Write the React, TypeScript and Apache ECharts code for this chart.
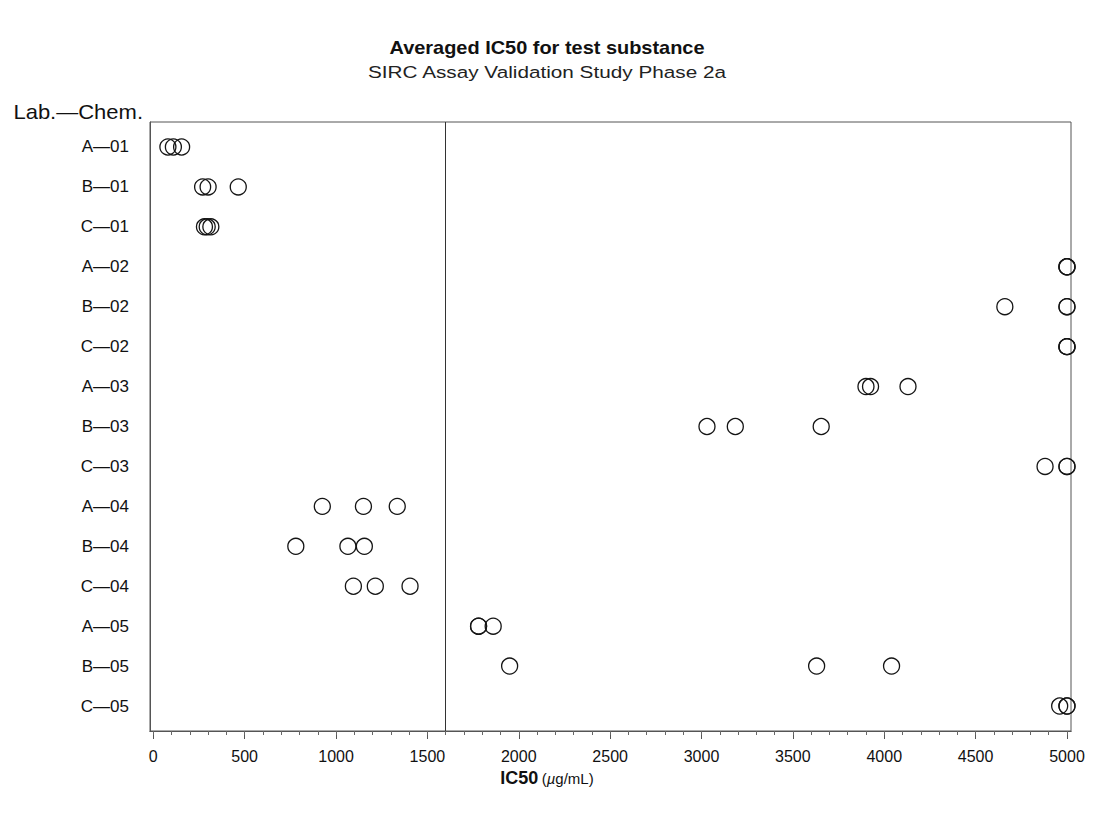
import React, { useEffect, useRef } from "react";
import * as echarts from "echarts";

// Row labels (Lab.–Chem.), top to bottom
const rowLabels = [
  "A—01", "B—01", "C—01",
  "A—02", "B—02", "C—02",
  "A—03", "B—03", "C—03",
  "A—04", "B—04", "C—04",
  "A—05", "B—05", "C—05",
];

// Averaged IC50 values (µg/mL), three runs per lab–chemical row
const run1Values = [80, 270, 280, 5000, 4660, 5000, 3900, 3030, 4880, 925, 780, 1095, 1780, 1950, 4960];
const run2Values = [110, 300, 295, 5000, 5000, 5000, 3925, 3185, 5000, 1150, 1065, 1215, 1780, 3630, 5000];
const run3Values = [155, 465, 315, 5000, 5000, 5000, 4130, 3655, 5000, 1335, 1155, 1405, 1860, 4040, 5000];

const majorTicks = [0, 500, 1000, 1500, 2000, 2500, 3000, 3500, 4000, 4500, 5000];
const minorTicks = Array.from({ length: 51 }, (_, i) => i * 100);
const referenceLine = 1600;

const FONT = "'Liberation Sans', Arial, Helvetica, sans-serif";

export default function App() {
  const ref = useRef<HTMLDivElement>(null);

  useEffect(() => {
    if (!ref.current) return;
    const chart = echarts.init(ref.current, null, { renderer: "svg" });

    const runs = [run1Values, run2Values, run3Values];
    const series: any[] = runs.map((vals, k) => ({
      type: "scatter",
      xAxisIndex: k === 1 ? 1 : 0,
      yAxisIndex: 0,
      symbol: "circle",
      symbolSize: 16,
      itemStyle: { color: "rgba(0,0,0,0)", borderColor: "#151515", borderWidth: 1.3, opacity: 1 },
      data: vals.map((v, i) => [v, i]),
      markLine:
        k === 0
          ? {
              silent: true,
              symbol: ["none", "none"],
              label: { show: false },
              lineStyle: { color: "#333", width: 1, type: "solid" },
              data: [{ xAxis: referenceLine }],
            }
          : undefined,
    }));

    chart.setOption({
      animation: false,
      backgroundColor: "#ffffff",
      grid: {
        left: 150,
        top: 122,
        width: 921,
        height: 609,
        show: true,
        borderColor: "#555",
        borderWidth: 1,
        backgroundColor: "transparent",
      },
      xAxis: [
        {
          type: "value",
          min: -18,
          max: 5022,
          position: "bottom",
          axisLine: { show: true, onZero: false, lineStyle: { color: "#555", width: 1 } },
          axisTick: { show: true, customValues: majorTicks, length: 8, lineStyle: { color: "#555" } },
          axisLabel: {
            show: true,
            customValues: majorTicks,
            formatter: (v: number) => String(Math.round(v)),
            fontFamily: FONT,
            fontSize: 16,
            color: "#111",
            margin: 17,
          },
          splitLine: { show: false },
        },
        {
          type: "value",
          min: -18,
          max: 5022,
          position: "bottom",
          offset: 0,
          axisLine: { show: true, onZero: false, lineStyle: { color: "#555", width: 1 } },
          axisTick: { show: true, customValues: minorTicks, length: 4, lineStyle: { color: "#666" } },
          axisLabel: { show: false },
          splitLine: { show: false },
        },
      ],
      yAxis: {
        type: "value",
        inverse: true,
        min: -0.625,
        max: 14.625,
        axisLine: { show: true, onZero: false, lineStyle: { color: "#555" } },
        axisTick: { show: false },
        axisLabel: {
          customValues: rowLabels.map((_, i) => i),
          formatter: (v: number) => rowLabels[Math.round(v)] ?? "",
          fontFamily: FONT,
          fontSize: 17,
          color: "#111",
          margin: 21,
        },
        splitLine: { show: false },
      },
      graphic: [
        {
          type: "text",
          x: 547,
          y: 47,
          scaleX: 1.05,
          style: {
            text: "Averaged IC50 for test substance",
            font: `bold 19px ${FONT}`,
            fill: "#111",
            textAlign: "center",
            textVerticalAlign: "middle",
          },
        },
        {
          type: "text",
          x: 547,
          y: 72,
          scaleX: 1.22,
          style: {
            text: "SIRC Assay Validation Study Phase 2a",
            font: `17px ${FONT}`,
            fill: "#222",
            textAlign: "center",
            textVerticalAlign: "middle",
          },
        },
        {
          type: "text",
          x: 143,
          y: 112,
          scaleX: 1.1,
          style: {
            text: "Lab.—Chem.",
            font: `20px ${FONT}`,
            fill: "#111",
            textAlign: "right",
            textVerticalAlign: "middle",
          },
        },
        {
          type: "text",
          x: 547,
          y: 778,
          style: {
            text: "{b|IC50} {n|(}{i|µ}{n|g/mL)}",
            textAlign: "center",
            textVerticalAlign: "middle",
            rich: {
              b: { font: `bold 18px ${FONT}`, fill: "#111" },
              n: { font: `15px ${FONT}`, fill: "#111" },
              i: { font: `italic 15px ${FONT}`, fill: "#111" },
            },
          },
        },
      ],
      series,
    });

    return () => chart.dispose();
  }, []);

  return (
    <div
      ref={ref}
      style={{ position: "fixed", left: 0, top: 0, width: 1094, height: 818, background: "#fff" }}
    />
  );
}
